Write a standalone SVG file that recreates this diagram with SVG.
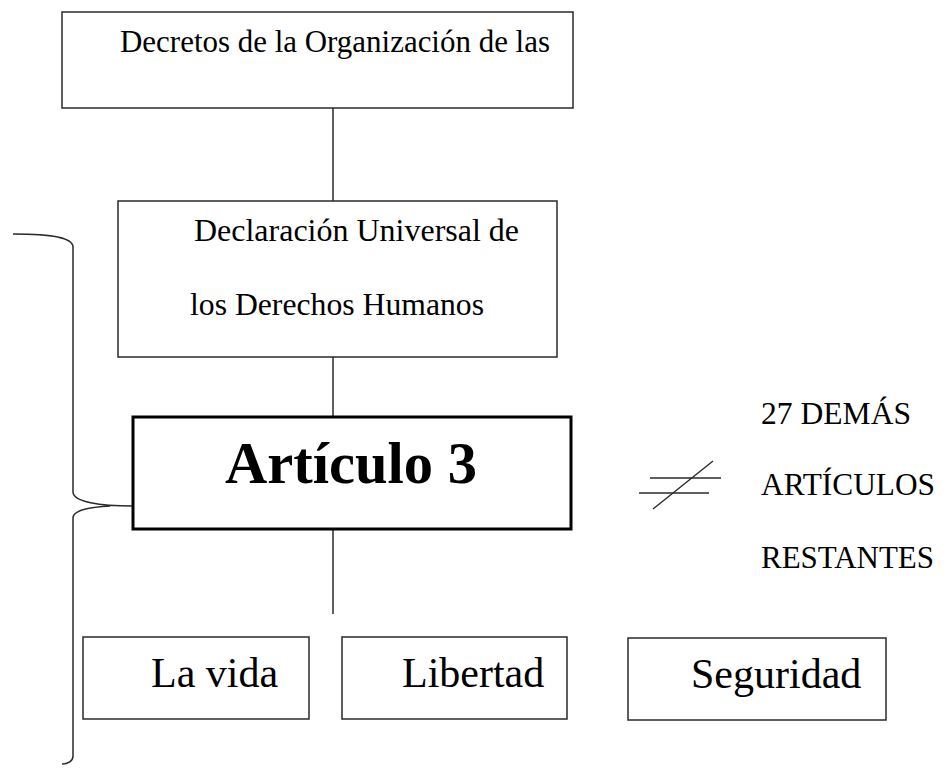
<svg xmlns="http://www.w3.org/2000/svg" width="951" height="769" viewBox="0 0 951 769">
<style>
.box{fill:#fff;stroke:#2a2a2a;stroke-width:1.5}
.thick{fill:#fff;stroke:#000;stroke-width:3}
.t{font-family:"Liberation Serif","Times New Roman",serif;fill:#000}
.ln{stroke:#2a2a2a;stroke-width:1.5;fill:none}
</style>
<rect width="951" height="769" fill="#fff"/>
<g id="connectors">
<line class="ln" x1="333" y1="108" x2="333" y2="201"/>
<line class="ln" x1="333" y1="357" x2="333" y2="417"/>
<line class="ln" x1="333" y1="529" x2="333" y2="614"/>
<path class="ln" d="M13,234 C55,234 73,238 73,247 L73,492 C73,502 100,506 133,506 M110,506 C90,507 73,510 73,518 L73,756 C73,761 68,764 62,764"/>
</g>
<g id="n1">
<rect class="box" x="62" y="12" width="511" height="96"/>
<text class="t" x="120" y="52" font-size="31" textLength="430" lengthAdjust="spacingAndGlyphs">Decretos de la Organización de las</text>
</g>
<g id="n2">
<rect class="box" x="118" y="201" width="439" height="156"/>
<text class="t" x="194" y="241" font-size="32" textLength="325" lengthAdjust="spacingAndGlyphs">Declaración Universal de</text>
<text class="t" x="190" y="315" font-size="32" textLength="294" lengthAdjust="spacingAndGlyphs">los Derechos Humanos</text>
</g>
<g id="n3">
<rect class="thick" x="133" y="417" width="438" height="112"/>
<text class="t" x="225" y="483" font-size="59" font-weight="bold" textLength="252" lengthAdjust="spacingAndGlyphs">Artículo 3</text>
</g>
<g id="n4">
<rect class="box" x="83" y="637" width="226" height="82"/>
<text class="t" x="151" y="687" font-size="42">La vida</text>
</g>
<g id="n5">
<rect class="box" x="342" y="637" width="225" height="82"/>
<text class="t" x="402" y="687" font-size="42">Libertad</text>
</g>
<g id="n6">
<rect class="box" x="628" y="638" width="258" height="82"/>
<text class="t" x="691" y="688" font-size="42">Seguridad</text>
</g>
<g id="n7">
<line class="ln" x1="650" y1="478" x2="721" y2="478"/>
<line class="ln" x1="639" y1="493" x2="709" y2="493"/>
<line class="ln" x1="713" y1="461" x2="653" y2="509"/>
<text class="t" x="761" y="424" font-size="32" textLength="150" lengthAdjust="spacingAndGlyphs">27 DEMÁS</text>
<text class="t" x="761" y="495" font-size="31" textLength="174" lengthAdjust="spacingAndGlyphs">ARTÍCULOS</text>
<text class="t" x="761" y="568" font-size="31" textLength="173" lengthAdjust="spacingAndGlyphs">RESTANTES</text>
</g>
</svg>
